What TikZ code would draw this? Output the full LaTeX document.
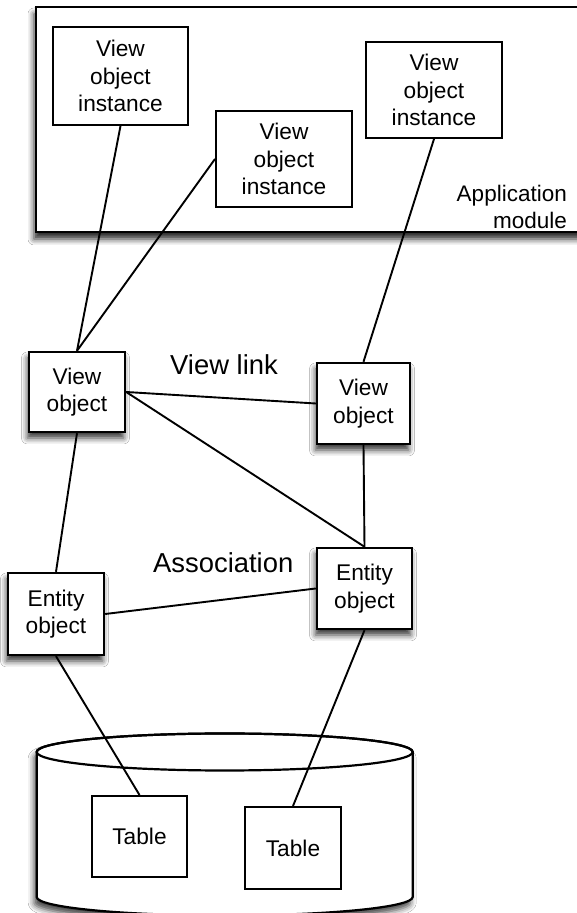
\documentclass[tikz,border=0pt]{standalone}
\usepackage{fontspec}
\setmainfont{Liberation Sans}
\usetikzlibrary{shadows.blur}

\tikzset{
  boxtext/.style={font=\fontsize{22.7}{27.5}\selectfont, align=center},
  plainbox/.style={draw=black, line width=2pt, fill=white, inner sep=0pt, boxtext},
  shadowbox/.style={plainbox, line width=2.4pt,
    blur shadow={shadow xshift=-1.5pt, shadow yshift=-6pt, shadow blur radius=6pt, shadow opacity=80}},
  link/.style={draw=black, line width=1.9pt},
  biglabel/.style={font=\fontsize{27.4}{32}\selectfont, inner sep=0pt},
}

\begin{document}
\begin{tikzpicture}[x=1pt,y=1pt]
\useasboundingbox (0,0) rectangle (576,913);
\fill[white] (0,0) rectangle (576,913);

% application module frame
\path[draw=black, line width=2.6pt, fill=white,
  blur shadow={shadow xshift=-2pt, shadow yshift=-7pt, shadow blur radius=6pt, shadow opacity=85}]
  (36,681) rectangle (610,906);
\node[inner sep=0pt, anchor=south east, align=right,
  font=\fontsize{22.5}{27.3}\selectfont] (appmod) at (567,684) {Application\\module};

% view object instances
\node[plainbox, minimum width=135pt, minimum height=98pt] (voi1) at (120.5,837) {View\\object\\instance};
\node[plainbox, minimum width=136pt, minimum height=96pt] (voi2) at (284,754) {View\\object\\instance};
\node[plainbox, minimum width=136pt, minimum height=96pt] (voi3) at (434,823) {View\\object\\instance};

% database cylinder
\path[draw=black, line width=2.2pt, fill=white,
  blur shadow={shadow xshift=-2.5pt, shadow yshift=-6pt, shadow blur radius=6pt, shadow opacity=75}]
  (36.7,161) -- (36.7,16)
  arc[start angle=180, end angle=360, x radius=188pt, y radius=18.5pt]
  -- (412.7,161)
  arc[start angle=0, end angle=180, x radius=188pt, y radius=18.5pt] -- cycle;
\draw[line width=2.2pt] (224.7,161) ellipse[x radius=188pt, y radius=18.5pt];

% coordinates of the middle layer
\coordinate (vo1c) at (77,521);
\coordinate (vo2c) at (363.5,509.5);
\coordinate (eo1c) at (56,299);
\coordinate (eo2c) at (364.5,324.5);

% view objects and entity objects
\node[shadowbox, minimum width=96pt, minimum height=80pt] (vo1) at (vo1c) {View\\object};
\node[shadowbox, minimum width=93pt, minimum height=81pt] (vo2) at (vo2c) {View\\object};
\node[shadowbox, minimum width=96pt, minimum height=82pt] (eo1) at (eo1c) {Entity\\object};
\node[shadowbox, minimum width=95pt, minimum height=81pt] (eo2) at (eo2c) {Entity\\object};

% tables
\node[plainbox, minimum width=95pt, minimum height=81pt] (t1) at (139.5,76.5) {Table};
\node[plainbox, minimum width=96pt, minimum height=82pt] (t2) at (293,65) {Table};

% connectors
\draw[link] (voi1.south) -- (vo1.north);
\draw[link] (voi2.west) -- (vo1.north);
\draw[link] (voi3.south) -- (vo2.north);
\draw[link] (vo1.east) -- (vo2.west);
\draw[link] (vo1.east) -- (eo2.north);
\draw[link] (vo2.south) -- (eo2.north);
\draw[link] (vo1.south) -- (eo1.north);
\draw[link] (eo1.east) -- (eo2.west);
\draw[link] (eo1.south) -- (t1.north);
\draw[link] (eo2.south) -- (t2.north);

% relationship labels
\node[biglabel, anchor=base west] (vlink) at (170,538) {View link};
\node[biglabel, anchor=base west] (assoc) at (153,340) {Association};
\end{tikzpicture}
\end{document}
